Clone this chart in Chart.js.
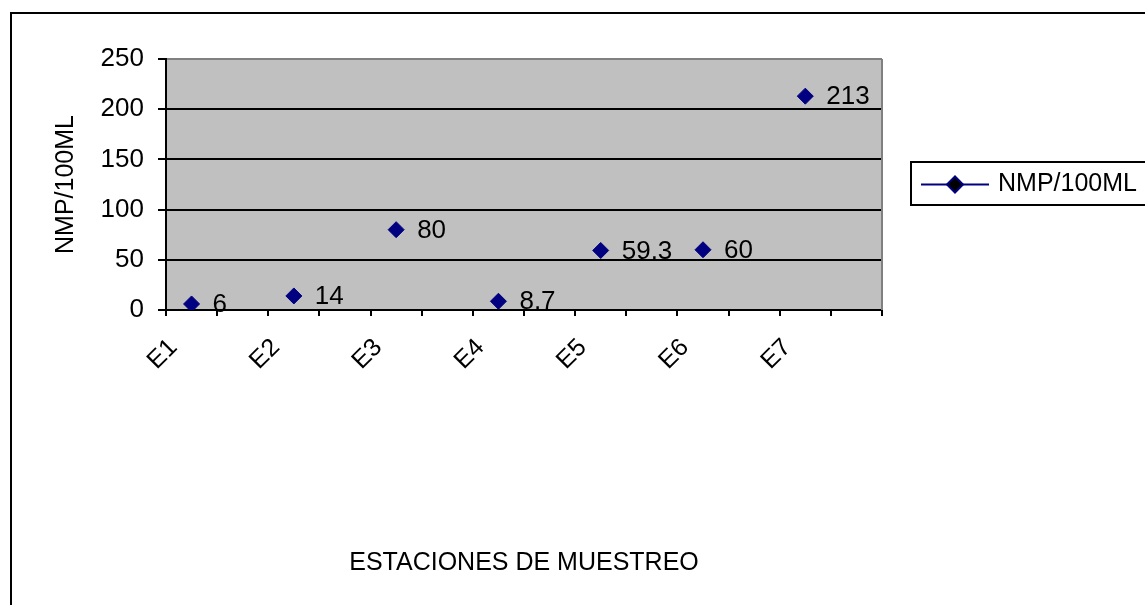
<!DOCTYPE html>
<html>
<head>
<meta charset="utf-8">
<script src="https://cdn.jsdelivr.net/npm/chart.js@4.4.1/dist/chart.umd.min.js"></script>
<style>
  html, body { margin: 0; padding: 0; background: #fff; overflow: hidden; }
  #wrap { position: absolute; left: 0; top: 0; width: 1145px; height: 605px; }
</style>
</head>
<body>
<div id="wrap"><canvas id="chart" width="1145" height="605"></canvas></div>
<script>
// Sampling stations and measured values
const stations = ['E1', 'E2', 'E3', 'E4', 'E5', 'E6', 'E7'];
const nmpValues = [6, 14, 80, 8.7, 59.3, 60, 213];
const yTicks = [0, 50, 100, 150, 200, 250];
const seriesName = 'NMP/100ML';
const xTitle = 'ESTACIONES DE MUESTREO';
const yTitle = 'NMP/100ML';

// Each station takes a slot followed by an empty one on the category axis
const slotLabels = stations.flatMap(s => [s, '']);
const slotValues = nmpValues.flatMap(v => [v, null]);

const FONT = "'Liberation Sans', Arial, sans-serif";
const MARK = '#000080';
const txtFont = { family: FONT, size: 25 };
const numFont = { family: FONT, size: 26 };

const plotBackground = {
  id: 'plotBackground',
  beforeDraw(chart) {
    const { ctx, chartArea: a } = chart;
    ctx.save();
    ctx.fillStyle = '#c0c0c0';
    ctx.fillRect(a.left, a.top, a.right - a.left, a.bottom - a.top);
    ctx.restore();
  },
  afterDraw(chart) {
    const { ctx, chartArea: a } = chart;
    ctx.save();
    // right edge of plot area
    ctx.strokeStyle = '#808080';
    ctx.lineWidth = 2;
    ctx.beginPath();
    ctx.moveTo(a.right, a.top);
    ctx.lineTo(a.right, a.bottom);
    ctx.stroke();
    // outer frame
    ctx.strokeStyle = '#000';
    ctx.lineWidth = 2;
    ctx.strokeRect(11, 13, 1200, 700);
    ctx.restore();
  }
};

const valueLabels = {
  id: 'valueLabels',
  afterDatasetsDraw(chart) {
    const { ctx } = chart;
    const meta = chart.getDatasetMeta(0);
    const data = chart.data.datasets[0].data;
    ctx.save();
    ctx.font = `26px ${FONT}`;
    ctx.fillStyle = '#000';
    ctx.textAlign = 'left';
    ctx.textBaseline = 'middle';
    meta.data.forEach((pt, i) => {
      if (data[i] === null) return;
      ctx.fillText(String(data[i]), pt.x + 21, pt.y + 1);
    });
    ctx.restore();
  }
};

const boxedLegend = {
  id: 'boxedLegend',
  afterDraw(chart) {
    const { ctx } = chart;
    const ds = chart.data.datasets[0];
    const bx = 911, by = 162, bh = 43;
    ctx.save();
    ctx.strokeStyle = '#000';
    ctx.lineWidth = 2;
    ctx.strokeRect(bx, by, 300, bh);
    const cy = by + bh / 2 + 1;
    ctx.strokeStyle = ds.borderColor;
    ctx.lineWidth = 2;
    ctx.beginPath();
    ctx.moveTo(921, cy);
    ctx.lineTo(989, cy);
    ctx.stroke();
    Chart.helpers.drawPoint(ctx, {
      pointStyle: 'rectRot', radius: 8, borderWidth: 1,
      backgroundColor: ds.backgroundColor, borderColor: ds.borderColor
    }, 955, cy);
    ctx.fillStyle = '#000';
    ctx.font = `25px ${FONT}`;
    ctx.textBaseline = 'middle';
    ctx.textAlign = 'left';
    ctx.fillText(ds.label, 998, cy);
    ctx.restore();
  }
};

new Chart(document.getElementById('chart'), {
  type: 'line',
  data: {
    labels: slotLabels,
    datasets: [{
      label: seriesName,
      data: slotValues,
      showLine: false,
      pointStyle: 'rectRot',
      pointRadius: 8,
      pointHoverRadius: 8,
      pointBorderWidth: 1,
      backgroundColor: MARK,
      borderColor: MARK
    }]
  },
  options: {
    responsive: false,
    devicePixelRatio: 1,
    animation: false,
    events: [],
    layout: { padding: { left: 0, top: 59, right: 263, bottom: 0 } },
    plugins: {
      legend: { display: false },
      tooltip: { enabled: false }
    },
    scales: {
      x: {
        type: 'category',
        offset: true,
        grid: {
          offset: true,
          drawOnChartArea: false,
          drawTicks: true,
          tickLength: 6,
          color: '#000',
          lineWidth: 2
        },
        border: { color: '#000', width: 2 },
        ticks: {
          autoSkip: false,
          minRotation: 45,
          maxRotation: 45,
          color: '#000',
          font: txtFont,
          padding: 17,
          labelOffset: -18
        },
        title: {
          display: true,
          text: xTitle,
          color: '#000',
          font: txtFont,
          padding: { top: 0, bottom: 27 }
        },
        afterFit(scale) { scale.height = 605 - 310; }
      },
      y: {
        min: 0,
        max: 250,
        afterBuildTicks(scale) { scale.ticks = yTicks.map(v => ({ value: v })); },
        grid: {
          color: c => (c.tick && c.tick.value === 250 ? '#808080' : '#000'),
          tickColor: '#000',
          lineWidth: 2,
          drawTicks: true,
          tickLength: 8
        },
        border: { color: '#000', width: 2 },
        ticks: {
          color: '#000',
          font: numFont,
          padding: 14
        },
        title: {
          display: true,
          text: yTitle,
          color: '#000',
          font: txtFont,
          padding: { top: 51, bottom: 0 }
        },
        afterFit(scale) { scale.width = 166; }
      }
    }
  },
  plugins: [plotBackground, valueLabels, boxedLegend]
});
</script>
</body>
</html>
